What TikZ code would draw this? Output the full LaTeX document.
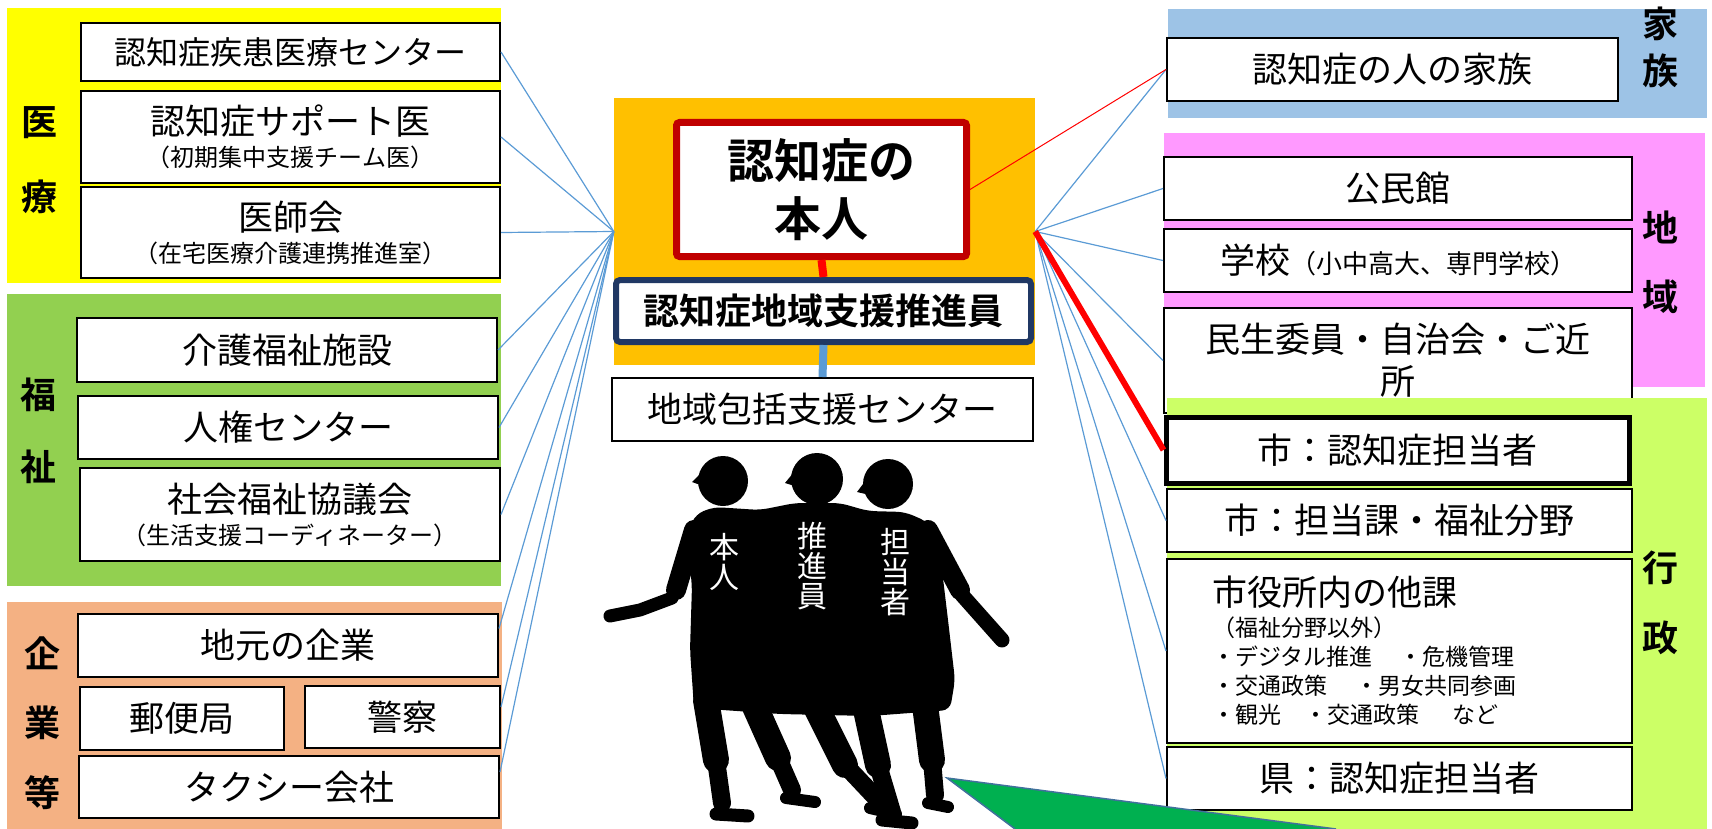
\documentclass[tikz,border=0pt]{standalone}
\usepackage{fontspec}
\setmainfont{Noto Sans CJK JP}[BoldFont={Noto Sans CJK JP Bold}]
\usepackage{tikz}

\definecolor{iryoyellow}{HTML}{FFFF00}
\definecolor{fukushigreen}{HTML}{92D050}
\definecolor{kigyoorange}{HTML}{F4B183}
\definecolor{coreamber}{HTML}{FFC000}
\definecolor{kazokublue}{HTML}{9DC3E6}
\definecolor{chiikipink}{HTML}{FF99FF}
\definecolor{gyoseilime}{HTML}{CCFF66}
\definecolor{honninred}{HTML}{C00000}
\definecolor{suishinnavy}{HTML}{203864}
\definecolor{linkblue}{HTML}{5B9BD5}
\definecolor{arrowgreen}{HTML}{00B050}
\definecolor{arrowedge}{HTML}{41719C}

\newcommand{\bigtxt}{\fontsize{35}{42}\selectfont}
\newcommand{\subtxt}{\fontsize{24}{28}\selectfont}
\newcommand{\sidetxt}{\fontsize{36}{42}\selectfont\bfseries}

\begin{document}
\begin{tikzpicture}[x=1pt,y=-1pt,
  box/.style={draw=black,line width=2pt,fill=white,inner sep=0pt,align=center,font=\bigtxt},
  sidelabel/.style={inner sep=0pt,font=\sidetxt},
  figtxt/.style={white,inner sep=0pt,align=center,font=\fontsize{30}{30}\selectfont},
  fan/.style={linkblue,line width=1.2pt},
  limb/.style={line cap=round,line join=round}]

\useasboundingbox (0,0) rectangle (1712,829);

% left groups
\fill[iryoyellow] (7,8) rectangle (501,283);
\fill[fukushigreen] (7,294) rectangle (501,586);
\fill[kigyoorange] (7,602) rectangle (502,829);

\node[box,minimum width=419pt,minimum height=58pt,font=\fontsize{32}{38}\selectfont] (shikkan) at (290.5,52) {認知症疾患医療センター};
\node[box,minimum width=419pt,minimum height=92pt] (support) at (290.5,137) {認知症サポート医\\[-10pt]{\subtxt（初期集中支援チーム医）}};
\node[box,minimum width=419pt,minimum height=91pt] (ishikai) at (290.5,232.5) {医師会\\[-10pt]{\subtxt（在宅医療介護連携推進室）}};
\node[sidelabel] (iryo1) at (39,123) {医};
\node[sidelabel] (iryo2) at (39,197) {療};

\node[box,minimum width=420pt,minimum height=64pt] (kaigo) at (287,350) {介護福祉施設};
\node[box,minimum width=420pt,minimum height=63pt] (jinken) at (288,427.5) {人権センター};
\node[box,minimum width=420pt,minimum height=93pt] (shakyo) at (290,514.5) {社会福祉協議会\\[-10pt]{\subtxt（生活支援コーディネーター）}};
\node[sidelabel] (fukushi1) at (38,395) {福};
\node[sidelabel] (fukushi2) at (38,467) {祉};

\node[box,minimum width=420pt,minimum height=63pt] (jimoto) at (288,645.5) {地元の企業};
\node[box,minimum width=204pt,minimum height=63pt] (yubin) at (182,718.5) {郵便局};
\node[box,minimum width=195pt,minimum height=62pt] (keisatsu) at (402.5,717) {警察};
\node[box,minimum width=420pt,minimum height=62pt] (taxi) at (289,787) {タクシー会社};
\node[sidelabel] (kigyo1) at (42,653) {企};
\node[sidelabel] (kigyo2) at (42,723) {業};
\node[sidelabel] (kigyo3) at (42,793) {等};

% centre
\node[fill=coreamber,inner sep=0pt,minimum width=421pt,minimum height=267pt] (core) at (824.5,231.5) {};
\node[box,draw=honninred,line width=7pt,rounded corners=3pt,minimum width=290pt,minimum height=134pt,
  font=\fontsize{47}{58}\selectfont\bfseries] (honnin) at (821.5,189.5) {認知症の\\本人};
\node[box,draw=suishinnavy,line width=6pt,rounded corners=4pt,minimum width=415pt,minimum height=62pt,
  font=\fontsize{36}{42}\selectfont\bfseries] (suishin) at (823.5,311) {認知症地域支援推進員};
\node[box,minimum width=421pt,minimum height=63pt] (hokatsu) at (822.5,409.5) {地域包括支援センター};

\draw[red,line width=8pt] (honnin.south) -- (suishin.north);
\draw[linkblue,line width=8pt] (suishin.south) -- (hokatsu.north);

% right groups
\fill[kazokublue] (1168,9) rectangle (1707,118);
\node[box,minimum width=451pt,minimum height=63pt] (kazoku) at (1392.5,69.5) {認知症の人の家族};
\node[sidelabel] (kazoku1) at (1660,24) {家};
\node[sidelabel] (kazoku2) at (1660,71) {族};

\fill[chiikipink] (1164,133) rectangle (1705,387);
\node[box,minimum width=468pt,minimum height=63pt] (kominkan) at (1398,188.5) {公民館};
\node[box,minimum width=468pt,minimum height=63pt] (gakko) at (1398,260.5) {学校{\fontsize{26}{30}\selectfont（小中高大、専門学校）}};
\node[box,minimum width=468pt,minimum height=105pt] (minsei) at (1398,360.5) {民生委員・自治会・ご近\\所};
\node[sidelabel] (chiiki1) at (1660,227) {地};
\node[sidelabel] (chiiki2) at (1660,297) {域};

\fill[gyoseilime] (1167,398) rectangle (1707,829);
\node[box,line width=5pt,minimum width=463pt,minimum height=66pt] (shi) at (1397.5,450) {市：認知症担当者};
\node[box,minimum width=465pt,minimum height=63pt] (tantoka) at (1399.5,520.5) {市：担当課・福祉分野};
\node[box,minimum width=465pt,minimum height=184pt] (taka) at (1399.5,651) {};
\node[anchor=west,inner sep=0pt,align=left,font=\fontsize{23}{29}\selectfont] (takatext) at ([xshift=46pt]taka.west)
  {{\bigtxt 市役所内の他課}\\[2pt]
   （福祉分野以外）\\
   ・デジタル推進\hspace{27pt}・危機管理\\
   ・交通政策\hspace{28pt}・男女共同参画\\
   ・観光\hspace{23pt}・交通政策\hspace{33pt}など};
\node[box,minimum width=465pt,minimum height=63pt] (ken) at (1399.5,778.5) {県：認知症担当者};
\node[sidelabel] (gyosei1) at (1660,568) {行};
\node[sidelabel] (gyosei2) at (1660,638) {政};

% links
\foreach \n in {shikkan,support,ishikai,kaigo,jinken,shakyo}
  \draw[fan] (core.west) -- (\n.east);
\draw[fan] (core.west) -- ([yshift=17pt]jimoto.east);
\draw[fan] (core.west) -- ([yshift=10pt]keisatsu.east);
\draw[fan] (core.west) -- ([yshift=15pt]taxi.east);

\foreach \n in {kazoku,kominkan,gakko,minsei,tantoka,taka,ken}
  \draw[fan] (core.east) -- (\n.west);
\draw[red,line width=1pt] (honnin.east) -- (kazoku.west);
\draw[red,line width=6pt] (core.east) -- (shi.west);

% three walking figures
\fill[rounded corners=8pt] (686,535) -- (696,514) -- (714,507) -- (760,510) -- (795,503) -- (840,503)
  -- (868,511) -- (905,512) -- (928,522) -- (942,570) -- (948,620) -- (955,680) -- (950,710)
  -- (870,716) -- (780,714) -- (694,708) -- (690,650) -- (692,585) -- cycle;
\fill (723,481) circle[radius=25pt];
\fill (817,479) circle[radius=26pt];
\fill (888,484) circle[radius=25pt];
\fill (702,472) -- (692,482) -- (706,487) -- cycle;
\fill (794,472) -- (785,483) -- (798,487) -- cycle;
\fill (866,480) -- (857,492) -- (870,495) -- cycle;
\draw[limb,line width=20pt] (694,530) -- (676,590);
\draw[limb,line width=13pt] (672,598) -- (640,610) -- (610,616);
\draw[limb,line width=20pt] (928,530) -- (960,590);
\draw[limb,line width=15pt] (962,595) -- (1002,640);
\draw[limb,line width=26pt] (706,700) -- (716,760);
\draw[limb,line width=18pt] (716,760) -- (722,803);
\draw[limb,line width=13pt] (716,814) -- (748,816);
\draw[limb,line width=26pt] (752,700) -- (778,758);
\draw[limb,line width=18pt] (778,758) -- (792,790);
\draw[limb,line width=12pt] (786,798) -- (815,802);
\draw[limb,line width=26pt] (815,705) -- (845,765);
\draw[limb,line width=18pt] (845,765) -- (878,800);
\draw[limb,line width=12pt] (870,808) -- (896,814);
\draw[limb,line width=26pt] (865,705) -- (878,765);
\draw[limb,line width=18pt] (878,765) -- (892,812);
\draw[limb,line width=13pt] (882,820) -- (912,823);
\draw[limb,line width=26pt] (925,705) -- (932,760);
\draw[limb,line width=18pt] (932,760) -- (935,795);
\draw[limb,line width=12pt] (928,803) -- (948,807);
\node[figtxt] (fig1) at (724,562) {本\\人};
\node[figtxt] (fig2) at (812,566) {推\\進\\員};
\node[figtxt] (fig3) at (895,572) {担\\当\\者};

% green wedge
\fill[arrowgreen] (947,778) -- (1015,829) -- (1336,829) -- cycle;
\draw[arrowedge,line width=1.5pt] (1015,829) -- (947,778) -- (1336,829);

\end{tikzpicture}
\end{document}
